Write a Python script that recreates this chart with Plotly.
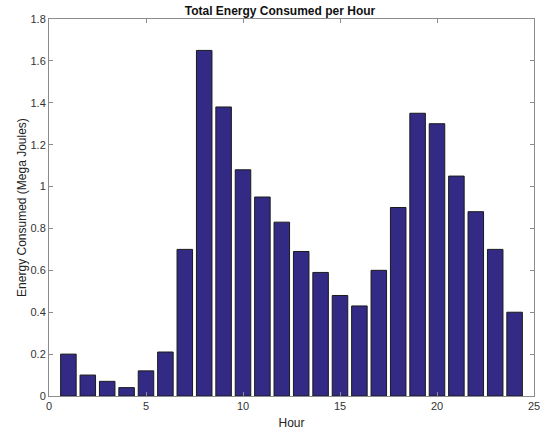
import plotly.graph_objects as go

hours = list(range(1, 25))
energy = [0.20, 0.10, 0.07, 0.04, 0.12, 0.21, 0.70, 1.65, 1.38, 1.08, 0.95, 0.83,
          0.69, 0.59, 0.48, 0.43, 0.60, 0.90, 1.35, 1.30, 1.05, 0.88, 0.70, 0.40]
x_ticks = [0, 5, 10, 15, 20, 25]
y_ticks = [0, 0.2, 0.4, 0.6, 0.8, 1.0, 1.2, 1.4, 1.6, 1.8]
y_labels = ["0", "0.2", "0.4", "0.6", "0.8", "1", "1.2", "1.4", "1.6", "1.8"]

fig = go.Figure(go.Bar(
    x=hours, y=energy, width=0.8,
    marker=dict(color="#332a86", line=dict(color="#1a1a1a", width=1)),
))

axis_common = dict(
    showline=True, linecolor="#8c8c8c", linewidth=1, mirror="ticks",
    ticks="inside", ticklen=4, tickcolor="#8c8c8c", showgrid=False, zeroline=False,
    automargin=False, ticklabeloverflow="allow",
    tickfont=dict(family="Liberation Sans, Arial, sans-serif", size=11, color="#333333"),
)

fig.update_layout(
    width=540, height=434,
    margin=dict(l=49, r=6, t=19, b=38),
    plot_bgcolor="white", paper_bgcolor="white",
    showlegend=False,
    title=dict(text="<b>Total Energy Consumed per Hour</b>", x=0.5185, xanchor="center",
               y=0.976, yanchor="middle",
               font=dict(family="Liberation Sans, Arial, sans-serif", size=12, color="#111111")),
    xaxis=dict(range=[0, 25], tickvals=x_ticks,
               title=dict(text="Hour", standoff=7,
                          font=dict(family="Liberation Sans, Arial, sans-serif", size=12, color="#222222")),
               **axis_common),
    yaxis=dict(range=[0, 1.8], tickvals=y_ticks, ticktext=y_labels,
               title=dict(text="Energy Consumed (Mega Joules)", standoff=1,
                          font=dict(family="Liberation Sans, Arial, sans-serif", size=12, color="#222222")),
               **axis_common),
)

fig.write_html("out.html", config={"displayModeBar": False},
               post_script="document.body.style.margin='0';document.body.style.overflow='hidden';")
